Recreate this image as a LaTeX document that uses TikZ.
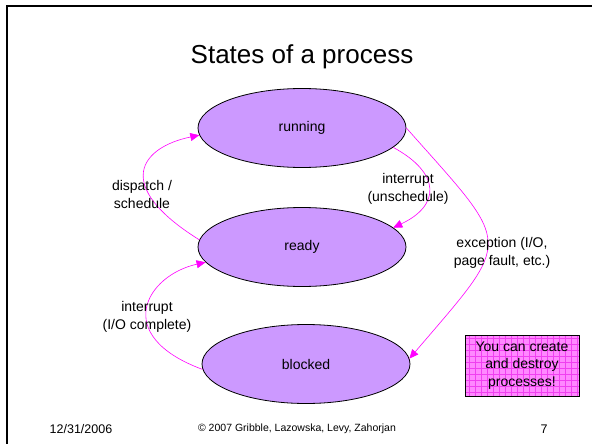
\documentclass[tikz,border=0pt]{standalone}
\usepackage{fontspec}
\setmainfont{Liberation Sans}
\usetikzlibrary{shapes.geometric,arrows.meta}
\definecolor{stateviolet}{HTML}{CC99FF}
\definecolor{notepink}{HTML}{FF88FF}
\definecolor{arrowmag}{HTML}{FF00FF}
\definecolor{gridmag}{HTML}{F040F0}

\begin{document}
\begin{tikzpicture}[x=1pt,y=-1pt,
    state/.style={ellipse,draw=black,line width=0.8pt,fill=stateviolet,
      minimum width=208pt,minimum height=79pt,font=\fontsize{14}{17}\selectfont},
    trans/.style={draw=arrowmag,line width=0.6pt,-{Triangle[length=9pt,width=8pt]}},
    lbl/.style={align=center,font=\fontsize{14}{18}\selectfont},
    foot/.style={font=\fontsize{12.5}{14}\selectfont}]
      \useasboundingbox (0,0) rectangle (592,444);
      \draw[black,line width=2.5pt] (592,6) -- (7,6) -- (7,444);

      \node (title) at (302,57){\fontsize{26}{30}\selectfont States of a process};

      \node[state] (running) at (302,128){running};
      \node[state] (ready) at (302,247){ready};
      \node[state] (blocked) at (306,364){blocked};

      \draw[trans] (ready.176) .. controls +(-88,-55) and +(-58,12) .. (running.184);
      \draw[trans] (blocked.183) .. controls +(-92,-34) and +(-59,13) .. (ready.189);
      \draw[trans] (running.-12) .. controls +(48,26) and +(47,-22) .. (ready.12);
      \draw[trans] (running.0) .. controls +(107,121) and +(105,-123) .. (blocked.3);

      \node[lbl] (ldispatch) at (142,194){dispatch /\\schedule};
      \node[lbl] (lunsched) at (408,189){interrupt\\(unschedule)};
      \node[lbl] (lexcept) at (502,253){exception (I/O,\\page fault, etc.)};
      \node[lbl] (liocomp) at (147,317){interrupt\\(I/O complete)};

      \node[draw=black,line width=0.8pt,fill=notepink,minimum width=114pt,minimum height=61pt,
        lbl,font=\fontsize{14}{17.5}\selectfont,
        path picture={\draw[gridmag,line width=0.3pt,step=6pt]
          (path picture bounding box.south west) grid (path picture bounding box.north east);}]
        (note) at (522,365.5){You can create\\and destroy\\processes!};

      \node[foot] (date) at (81,429){12/31/2006};
      \node[font=\fontsize{10.5}{12}\selectfont] (copy) at (297,429){\textcopyright{} 2007 Gribble, Lazowska, Levy, Zahorjan};
      \node[foot] (page) at (544,429){7};
    \end{tikzpicture}
\end{document}
